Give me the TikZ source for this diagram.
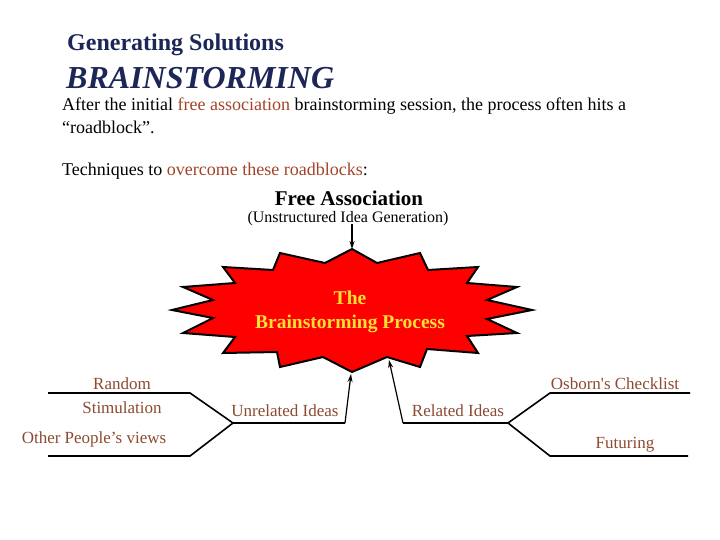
\documentclass[tikz,border=0pt]{standalone}
\usepackage{fontspec}
\setmainfont{Liberation Serif}
\newfontfamily\labelfont[Ligatures=TeXOff]{Liberation Serif}
\usetikzlibrary{arrows.meta}
\definecolor{navy}{HTML}{1C2757}
\definecolor{brick}{HTML}{A3442A}
\definecolor{labelbrown}{HTML}{8C4A30}
\definecolor{burstyellow}{HTML}{FFE033}
\tikzset{
  branch/.style={line width=1.6pt},
  feed/.style={line width=1.2pt, -{Stealth[length=8pt,width=5pt]}},
  tag/.style={text=labelbrown, inner sep=0pt, align=center, font=\labelfont\fontsize{17}{24}\selectfont},
  body/.style={anchor=west, inner sep=0pt, font=\fontsize{18}{23}\selectfont},
}
\begin{document}
\begin{tikzpicture}[x=1pt,y=-1pt]
    \useasboundingbox (0,0) rectangle (720,540);

    % headings
    \node[anchor=west, inner sep=0pt, text=navy, font=\fontsize{24}{28}\selectfont\bfseries] (title) at (67,45) {Generating Solutions};
    \node[anchor=west, inner sep=0pt, text=navy, font=\fontsize{32}{36}\selectfont\bfseries\itshape] (brain) at (66,78) {BRAINSTORMING};
    \node[body, align=left] (intro) at (62,116) {After the initial \textcolor{brick}{free association} brainstorming session, the process often hits a\\``roadblock''.};
    \node[body] (tech) at (62,171) {Techniques to \textcolor{brick}{overcome these roadblocks}:};

    % free association
    \node[inner sep=0pt, font=\fontsize{21}{24}\selectfont\bfseries] (free) at (349,198) {Free Association};
    \node[inner sep=0pt, font=\fontsize{16}{18}\selectfont] (unstr) at (348,219) {(Unstructured Idea Generation)};

    % the burst
    \draw[line width=2pt, fill=red, line join=miter] (352,249) -- (377,263) -- (420,253) -- (428,270) -- (478,267) -- (467,283)
        -- (517,287) -- (487,300) -- (532,310) -- (487,319) -- (517,333) -- (467,336) -- (478,353) -- (427,349)
        -- (420,367) -- (387,357) -- (352,372) -- (323,357) -- (280,367) -- (277,352) -- (223,353) -- (235,337)
        -- (183,333) -- (213,318) -- (172,310) -- (213,300) -- (183,287) -- (235,283) -- (223,267) -- (273,270)
        -- (280,253) -- (325,263) -- cycle;
    \node[inner sep=0pt, align=center, text=burstyellow, font=\fontsize{19.5}{24}\selectfont\bfseries] (core) at (350,312) {The\\Brainstorming Process};
    \coordinate (top) at (352,249);
    \coordinate (bottom) at (351,374);
    \coordinate (notch) at (389,360);

    \coordinate (fa) at (352,224);
    \draw[feed] (fa) -- (top);

    % left branches
    \coordinate (l1) at (48,393);
    \coordinate (l2) at (190,393);
    \coordinate (l3) at (48,456);
    \coordinate (l4) at (190,456);
    \coordinate (lj) at (233,423);
    \coordinate (le) at (345,423);
    \draw[branch] (l1) -- (l2) -- (lj) -- (le);
    \draw[branch] (l3) -- (l4) -- (lj);
    \draw[feed] (le) -- (bottom);
    \node[tag] (rand) at (122,396) {Random\\Stimulation};
    \node[tag] (other) at (94,439) {Other People’s views};
    \node[tag] (unrel) at (285,411) {Unrelated Ideas};

    % right branches
    \coordinate (r1) at (690,393);
    \coordinate (r2) at (550,393);
    \coordinate (r3) at (688,456);
    \coordinate (r4) at (550,456);
    \coordinate (rj) at (508,423);
    \coordinate (re) at (403,423);
    \draw[branch] (r1) -- (r2) -- (rj) -- (re);
    \draw[branch] (r3) -- (r4) -- (rj);
    \draw[feed] (re) -- (notch);
    \node[tag] (osborn) at (615,384) {Osborn's Checklist};
    \node[tag] (futur) at (625,445) {Futuring};
    \node[tag] (rel) at (458,411) {Related Ideas};

\end{tikzpicture}
\end{document}
